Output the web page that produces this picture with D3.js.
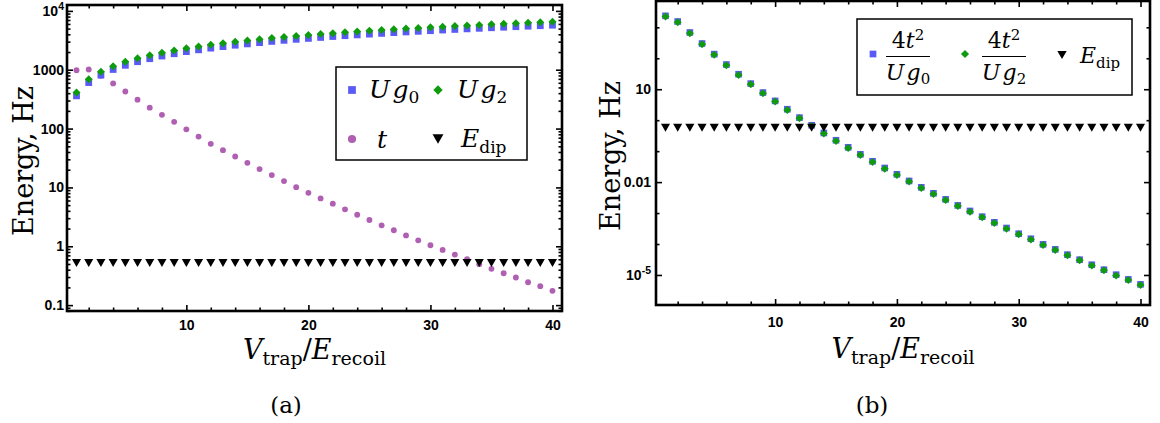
<!DOCTYPE html>
<html><head><meta charset="utf-8">
<script src="https://cdn.jsdelivr.net/npm/d3@7"></script>
<style>body{margin:0;background:#fff}svg{display:block}</style>
</head><body>
<svg id="c" width="1160" height="423"></svg>
<script>
// ---------------- data ----------------
const vtrap = [1,2,3,4,5,6,7,8,9,10,11,12,13,14,15,16,17,18,19,20,21,22,23,24,25,26,27,28,29,30,31,32,33,34,35,36,37,38,39,40];
// panel (a)
const ug0 = [360,605,810,1010,1190,1370,1540,1710,1870,2030,2180,2330,2470,2610,2750,2890,3030,3160,3290,3410,3540,3670,3790,3910,4030,4150,4270,4390,4500,4610,4730,4840,4950,5060,5170,5280,5390,5500,5600,5710];
const ug2 = [410,690,925,1150,1360,1560,1760,1950,2130,2310,2480,2650,2820,2980,3140,3290,3450,3600,3750,3890,4040,4180,4320,4460,4600,4730,4870,5000,5130,5260,5390,5520,5650,5770,5900,6020,6140,6270,6390,6510];
const tHop = [980,1010,790,586,427,310,227,171,130,97,73,55,43,33.5,26.2,20.5,16.2,12.8,10.1,8.1,6.5,5.3,4.24,3.44,2.79,2.27,1.87,1.53,1.26,1.04,0.867,0.722,0.602,0.496,0.413,0.348,0.294,0.245,0.21,0.175];
const edipA = [0.52,0.52,0.52,0.52,0.52,0.52,0.52,0.52,0.52,0.52,0.52,0.52,0.52,0.52,0.52,0.52,0.52,0.52,0.52,0.52,0.52,0.52,0.52,0.52,0.52,0.52,0.52,0.52,0.52,0.52,0.52,0.52,0.52,0.52,0.52,0.52,0.52,0.52,0.52,0.52];
// panel (b)
const ratioUg0 = [2350,1540,680,300,136,62.7,30.5,15.2,7.8,4.2,2.26,1.21,0.686,0.387,0.225,0.133,0.079,0.047,0.0286,0.0179,0.0109,0.00678,0.00434,0.00277,0.00177,0.00117,7.64e-4,5.02e-4,3.29e-4,2.15e-4,1.48e-4,9.75e-5,6.72e-5,4.53e-5,3.12e-5,2.14e-5,1.48e-5,1.02e-5,7.2e-6,4.97e-6];
const ratioUg2 = [2233,1466,646,285,129,59.7,29,14.5,7.43,4.0,2.15,1.155,0.653,0.369,0.214,0.127,0.0753,0.0448,0.0272,0.0170,0.01036,0.00646,0.00413,0.00264,0.00169,0.00111,7.28e-4,4.78e-4,3.13e-4,2.05e-4,1.41e-4,9.29e-5,6.40e-5,4.31e-5,2.97e-5,2.04e-5,1.41e-5,9.7e-6,6.86e-6,4.73e-6];
const edipB = [0.57,0.57,0.57,0.57,0.57,0.57,0.57,0.57,0.57,0.57,0.57,0.57,0.57,0.57,0.57,0.57,0.57,0.57,0.57,0.57,0.57,0.57,0.57,0.57,0.57,0.57,0.57,0.57,0.57,0.57,0.57,0.57,0.57,0.57,0.57,0.57,0.57,0.57,0.57,0.57];
// ticks
const xMajor = [10,20,30,40];
const xMinor = [2,4,6,8,12,14,16,18,22,24,26,28,32,34,36,38];
const yMajorA = [0.1,1,10,100,1000,10000];
const yLabelA = [["0.1"],["1"],["10"],["100"],["1000"],["10","4"]];
const yMajorB = [1e-5,0.01,10];
const yLabelB = [["10","-5"],["0.01"],["10"]];
const yMinorB = [1e-4,1e-3,0.1,1,100,1000];

// ---------------- styles ----------------
const BLUE="#5a5af6", GREEN="#0e9c0e", PURPLE="#b060b2", BLACK="#000";
const SERIF="'DejaVu Serif',serif";
const SANS="'Liberation Sans',Arial,sans-serif";

const svg = d3.select("#c");

const sqType = {draw(ctx,s){const r=Math.sqrt(s)/2;ctx.rect(-r,-r,2*r,2*r);}};
const diaType = {draw(ctx,s){const r=Math.sqrt(s/2);ctx.moveTo(0,-r);ctx.lineTo(r,0);ctx.lineTo(0,r);ctx.lineTo(-r,0);ctx.closePath();}};
const triType = {draw(ctx,s){const w=Math.sqrt(s/0.435),h=0.87*w;ctx.moveTo(-w/2,-h/2);ctx.lineTo(w/2,-h/2);ctx.lineTo(0,h/2);ctx.closePath();}};
const circType = d3.symbolCircle;

function logMinors(lo,hi){
  const out=[];
  for(let n=-8;n<=6;n++)for(let k=2;k<=9;k++){const v=k*Math.pow(10,n);if(v>lo&&v<hi)out.push(v);}
  return out;
}

function panel(c){
  const g = svg.append("g");
  const x = d3.scaleLinear().domain([0.22,40.78]).range([c.x0,c.x1]);
  const y = d3.scaleLog().domain(c.ydom).range([c.y1,c.y0]);
  c.series.forEach(s=>{
    g.append("g").selectAll("path").data(s.values).join("path")
      .attr("transform",(d,i)=>`translate(${x(vtrap[i])},${y(d)})`)
      .attr("d",d3.symbol(s.type,s.size)())
      .attr("fill",s.color);
  });
  const tickStyle = sel=>{sel.select(".domain").remove();sel.selectAll("line").attr("stroke",BLACK).attr("stroke-width",1.6);};
  g.append("g").attr("transform",`translate(0,${c.y1})`)
    .call(d3.axisBottom(x).tickValues(xMajor).tickSize(-6).tickPadding(c.xPad).tickFormat(d3.format("d")))
    .call(tickStyle)
    .call(a=>a.selectAll("text").attr("font-family",SANS).attr("font-weight","bold").attr("font-size",14).attr("fill",BLACK));
  g.append("g").attr("transform",`translate(0,${c.y1})`)
    .call(d3.axisBottom(x).tickValues(xMinor).tickSize(-3.5).tickFormat("")).call(tickStyle);
  g.append("g").attr("transform",`translate(0,${c.y0})`)
    .call(d3.axisTop(x).tickValues(xMajor).tickSize(-6).tickFormat("")).call(tickStyle);
  g.append("g").attr("transform",`translate(0,${c.y0})`)
    .call(d3.axisTop(x).tickValues(xMinor).tickSize(-3.5).tickFormat("")).call(tickStyle);
  const lab = c.yLabels;
  g.append("g").attr("transform",`translate(${c.x0},0)`)
    .call(d3.axisLeft(y).tickValues(c.yMajor).tickSize(-6).tickPadding(c.yPad).tickFormat(""))
    .call(tickStyle)
    .call(a=>a.selectAll("text").each(function(d,i){
      const t=d3.select(this).attr("font-family",SANS).attr("font-weight","bold").attr("font-size",14).attr("fill",BLACK);
      const L=lab[i];
      t.append("tspan").text(L[0]);
      if(L.length>1) t.append("tspan").attr("dy",-6).attr("font-size",10.5).text(L[1]);
    }));
  g.append("g").attr("transform",`translate(${c.x0},0)`)
    .call(d3.axisLeft(y).tickValues(c.yMinor).tickSize(-3.5).tickFormat("")).call(tickStyle);
  g.append("g").attr("transform",`translate(${c.x1},0)`)
    .call(d3.axisRight(y).tickValues(c.yMajor).tickSize(-6).tickFormat("")).call(tickStyle);
  g.append("g").attr("transform",`translate(${c.x1},0)`)
    .call(d3.axisRight(y).tickValues(c.yMinor).tickSize(-3.5).tickFormat("")).call(tickStyle);
  g.append("rect").attr("x",c.x0).attr("y",c.y0).attr("width",c.x1-c.x0).attr("height",c.y1-c.y0)
    .attr("fill","none").attr("stroke",BLACK).attr("stroke-width",2.6);
  g.append("text").attr("transform",`translate(${c.ytX},${(c.y0+c.y1)/2+3}) rotate(-90)`)
    .attr("text-anchor","middle").attr("font-family",SERIF).attr("font-size",27).text("Energy, Hz");
  const xt = g.append("text").attr("x",(c.x0+c.x1)/2).attr("y",c.xtY).attr("text-anchor","middle")
    .attr("font-family",SERIF).attr("font-size",27);
  xt.append("tspan").attr("font-style","italic").text("V");
  xt.append("tspan").attr("font-size",19).attr("dy",6).text("trap");
  xt.append("tspan").attr("dy",-6).text("/");
  xt.append("tspan").attr("font-style","italic").text("E");
  xt.append("tspan").attr("font-size",19).attr("dy",6).text("recoil");
  g.append("text").attr("x",c.capX).attr("y",413).attr("text-anchor","middle")
    .attr("font-family",SERIF).attr("font-size",23).text(c.cap);
  return g;
}

panel({x0:67,x1:562,y0:5,y1:311,ydom:[Math.pow(10,-1.1),Math.pow(10,4.1)],
  yMajor:yMajorA,yLabels:yLabelA,yMinor:logMinors(Math.pow(10,-1.1),Math.pow(10,4.1)),
  xPad:9,yPad:3,ytX:33,xtY:359,capX:286,cap:"(a)",
  series:[
    {values:tHop,type:circType,size:27,color:PURPLE},
    {values:ug0,type:sqType,size:46,color:BLUE},
    {values:ug2,type:diaType,size:32,color:GREEN},
    {values:edipA,type:triType,size:36,color:BLACK}
  ]});
panel({x0:656,x1:1150,y0:1,y1:305,ydom:[Math.pow(10,-5.97),Math.pow(10,3.85)],
  yMajor:yMajorB,yLabels:yLabelB,yMinor:yMinorB,
  xPad:12,yPad:5,ytX:620,xtY:358,capX:872,cap:"(b)",
  series:[
    {values:ratioUg0,type:sqType,size:44,color:BLUE},
    {values:ratioUg2,type:diaType,size:32,color:GREEN},
    {values:edipB,type:triType,size:36,color:BLACK}
  ]});

// ---------------- legends ----------------
function sym(g,type,size,color,cx,cy){
  g.append("path").attr("d",d3.symbol(type,size)()).attr("transform",`translate(${cx},${cy})`).attr("fill",color);
}
function ugText(g,x,y,sub,fs,anchor){
  const t=g.append("text").attr("x",x).attr("y",y).attr("font-family",SERIF).attr("font-size",fs).attr("text-anchor",anchor||"start");
  t.append("tspan").attr("font-style","italic").text("U");
  t.append("tspan").attr("font-style","italic").attr("dx",fs*0.1).text("g");
  t.append("tspan").attr("font-size",fs*0.68).attr("dy",fs*0.2).text(sub);
  return t;
}
function edipText(g,x,y,fs){
  const t=g.append("text").attr("x",x).attr("y",y).attr("font-family",SERIF).attr("font-size",fs);
  t.append("tspan").attr("font-style","italic").text("E");
  t.append("tspan").attr("font-size",fs*0.68).attr("dy",fs*0.22).text("dip");
}
const la = svg.append("g");
la.append("rect").attr("x",336).attr("y",67).attr("width",191).attr("height",93).attr("fill","#fff").attr("stroke",BLACK).attr("stroke-width",1.5);
sym(la,sqType,60,BLUE,352,90);
ugText(la,369,98,"0",25);
sym(la,diaType,44,GREEN,438,90);
ugText(la,457,98,"2",25);
sym(la,circType,52,PURPLE,352,139);
la.append("text").attr("x",377).attr("y",148).attr("font-family",SERIF).attr("font-size",25).attr("font-style","italic").text("t");
sym(la,triType,52,BLACK,438,139);
edipText(la,461,147,25);

const lb = svg.append("g");
lb.append("rect").attr("x",857).attr("y",19).attr("width",275).attr("height",76).attr("fill","#fff").attr("stroke",BLACK).attr("stroke-width",1.5);
function frac(g,cx,sub){
  const n=g.append("text").attr("x",cx).attr("y",48).attr("text-anchor","middle").attr("font-family",SERIF).attr("font-size",22);
  n.append("tspan").text("4");
  n.append("tspan").attr("font-style","italic").text("t");
  n.append("tspan").attr("font-size",15).attr("dy",-8).text("2");
  g.append("line").attr("x1",cx-22).attr("x2",cx+22).attr("y1",56.5).attr("y2",56.5).attr("stroke",BLACK).attr("stroke-width",1);
  ugText(g,cx,80,sub,22,"middle");
}
sym(lb,sqType,45,BLUE,873,54);
frac(lb,908,"0");
sym(lb,diaType,34,GREEN,965,54);
frac(lb,1004,"2");
sym(lb,triType,38,BLACK,1062,55);
edipText(lb,1080,63,22);
</script>
</body></html>
